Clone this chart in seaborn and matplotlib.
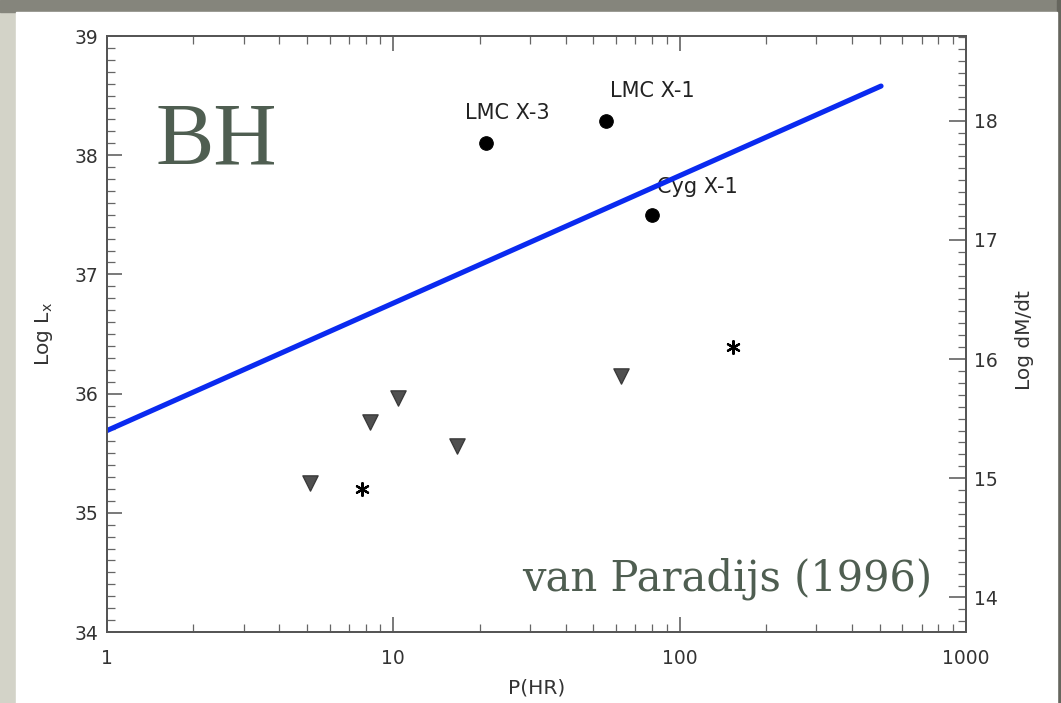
import matplotlib
matplotlib.use("Agg")
import matplotlib.pyplot as plt
import matplotlib.patches as mpatches
from matplotlib.ticker import MultipleLocator, FixedLocator, LogLocator, NullFormatter
import seaborn as sns
import pandas as pd

# ---- data ----
bh_names = ["LMC X-3", "LMC X-1", "Cyg X-1"]
bh_period = [21.1, 55.1, 79.8]
bh_logL = [38.10, 38.29, 37.50]
tri_period = [5.1, 8.3, 10.4, 16.7, 62.2]
tri_logL = [35.25, 35.76, 35.96, 35.56, 36.15]
ast_period = [7.8, 153.0]
ast_logL = [35.20, 36.39]
fit_period = [1.0, 505.0]
fit_logL = [35.69, 38.58]
x_ticks = [1, 10, 100, 1000]
x_ticklabels = ["1", "10", "100", "1000"]
left_ticks = [34, 35, 36, 37, 38, 39]
right_ticks = [14, 15, 16, 17, 18]
right_offset = 20.29

sns.set_theme(style="ticks")
plt.rcParams['font.family'] = ['DejaVu Sans']

fig = plt.figure(figsize=(10.61, 7.03), dpi=100, facecolor="#d3d3c8")
# shadowed frame
fig.patches.append(mpatches.Rectangle((0, 1 - 12/703), 1, 12/703, transform=fig.transFigure,
                                      color="#85857c", zorder=-3))
fig.patches.append(mpatches.Rectangle((1057/1061, 0), 4/1061, 1, transform=fig.transFigure,
                                      color="#66665e", zorder=-3))
fig.patches.append(mpatches.Rectangle((16/1061, 0), (1057-16)/1061, 1 - 12/703,
                                      transform=fig.transFigure, color="white", zorder=-2))

ax = fig.add_axes([107/1061, 1 - 632/703, (966-107)/1061, (632-36)/703])
ax.set_facecolor("white")

sns.lineplot(x=fit_period, y=fit_logL, ax=ax, color="#0a2af0", linewidth=3.7, zorder=3)
sns.scatterplot(x=bh_period, y=bh_logL, ax=ax, marker="o", s=95, color="black",
                edgecolor="black", zorder=4)
sns.scatterplot(x=tri_period, y=tri_logL, ax=ax, marker="v", s=120, color="#505050",
                edgecolor="#3a3a3a", linewidth=1.0, zorder=4)
sns.scatterplot(x=ast_period, y=ast_logL, ax=ax, marker=(6, 2, 0), s=85, color="black",
                edgecolor="black", linewidth=1.6, zorder=4)

offsets = [(15, 21.5), (34, 21.5), (33, 20)]
for name, px, ly, off in zip(bh_names, bh_period, bh_logL, offsets):
    ax.annotate(name, (px, ly), xytext=off, textcoords="offset points", ha="center",
                va="center", fontsize=15, color="#222222", zorder=2)

ax.set_xscale("log")
ax.set_xlim(1, 1000)
ax.set_ylim(34, 39)
ax.xaxis.set_major_locator(FixedLocator(x_ticks))
ax.set_xticklabels(x_ticklabels)
ax.xaxis.set_minor_locator(LogLocator(base=10, subs=range(2, 10)))
ax.xaxis.set_minor_formatter(NullFormatter())
ax.yaxis.set_major_locator(FixedLocator(left_ticks))
ax.yaxis.set_minor_locator(MultipleLocator(0.1))

for sp in ax.spines.values():
    sp.set_color("#555555")
    sp.set_linewidth(1.3)

ax.tick_params(which="major", direction="in", length=11, width=1.1, color="#555555",
               labelsize=13.5, labelcolor="#333333", top=True, right=False)
ax.tick_params(which="minor", direction="in", length=5.5, width=0.9, color="#666666",
               top=True, right=False)
ax.tick_params(axis="x", which="major", pad=12)
ax.tick_params(axis="y", which="major", pad=6)
ax.set_xlabel("P(HR)", fontsize=14.5, color="#333333", labelpad=8)
ax.set_ylabel("Log L$_{\\mathregular{x}}$", fontsize=14.5, color="#333333", labelpad=14)

ax2 = ax.twinx()
ax2.set_ylim(34 - right_offset, 39 - right_offset)
ax2.yaxis.set_major_locator(FixedLocator(right_ticks))
ax2.yaxis.set_minor_locator(MultipleLocator(0.1))
ax2.tick_params(which="major", direction="in", length=12, width=1.1, color="#555555",
                labelsize=13.5, labelcolor="#333333", pad=6)
ax2.tick_params(which="minor", direction="in", length=5.5, width=0.9, color="#666666")
for sp in ax2.spines.values():
    sp.set_color("#555555")
    sp.set_linewidth(1.3)
ax2.set_ylabel("Log dM/dt", fontsize=14.5, color="#333333", rotation=90)
ax2.yaxis.set_label_coords(1.057, 0.49)

fig.text(155/1061, 1 - 163/703, "BH", fontsize=63, family="Liberation Serif",
         color="#4f5e51", ha="left", va="baseline")
fig.text(932/1061, 1 - 590/703, "van Paradijs (1996)", fontsize=30,
         family="DejaVu Serif", color="#4f5e51", ha="right", va="baseline")

fig.savefig("out.png", dpi=100, facecolor=fig.get_facecolor())
